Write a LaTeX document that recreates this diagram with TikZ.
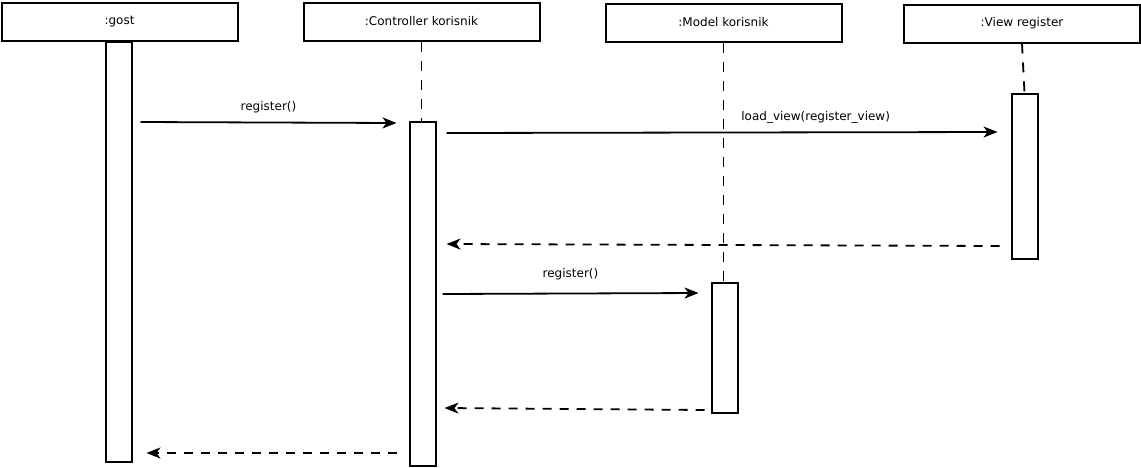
\documentclass[tikz,border=0pt]{standalone}
\usepackage{fontspec}
\setmainfont{DejaVu Sans}
\usetikzlibrary{arrows.meta}
\tikzset{
  objbox/.style={draw, line width=2pt, minimum width=236pt, minimum height=38pt, inner sep=0pt},
  actbar/.style={draw, line width=2pt, minimum width=26pt, inner sep=0pt},
  life/.style={line width=1.8pt, dash pattern=on 10pt off 9pt},
  msg/.style={line width=1.8pt, -{Stealth[length=14pt,width=11pt,inset=4pt]}},
  ret/.style={msg, dash pattern=on 9pt off 8pt},
  lbl/.style={inner sep=0pt}
}
\begin{document}
\begin{tikzpicture}[x=1pt, y=-1pt, font=\fontsize{12}{14}\selectfont]
        \useasboundingbox (0,0) rectangle (1141,467);                       %
        \node[objbox] (gost)  at (119.5,21.5)  {:gost};                     %objects
        \node[objbox] (ctrl)  at (421.5,21.5)  {:Controller korisnik};      %
        \node[objbox] (model) at (723.5,22.5)  {:Model korisnik};           %
        \node[objbox] (view)  at (1022,23.5)   {:View register};            %
        \node[actbar, minimum height=420pt] (gostbar)  at (118.5,252)  {};  %bars
        \node[actbar, minimum height=344pt] (ctrlbar)  at (422.5,294)  {};  %
        \node[actbar, minimum height=130pt] (modelbar) at (724.5,348)  {};  %
        \node[actbar, minimum height=165pt] (viewbar)  at (1024.5,176.5) {};%
        \draw [life] (ctrl.south)  -- (ctrl.south |- ctrlbar.north);        %lifelines
        \draw [life] (model.south) -- (model.south |- modelbar.north);      %
        \draw [life] (view.south)  -- (viewbar.north);                      %
        \draw [msg] ([shift={(8,81)}]gostbar.north east) -- ([shift={(-12,2)}]ctrlbar.north west)
              node[lbl, midway, above=9pt] {register()};                  %1
        \draw [msg] ([shift={(10,12)}]ctrlbar.north east) -- ([shift={(-13,39)}]viewbar.north west)
              node[lbl, pos=0.67, above=8pt] {load\_view(register\_view)}; %2
        \draw [ret] ([shift={(-11,-14)}]viewbar.south west) -- ([shift={(10,123)}]ctrlbar.north east); %3
        \draw [msg] ([shift={(6,173)}]ctrlbar.north east) -- ([shift={(-12,11)}]modelbar.north west)
              node[lbl, midway, above=13pt] {register()};                 %4
        \draw [ret] ([shift={(-6,-4)}]modelbar.south west) -- ([shift={(8,287)}]ctrlbar.north east); %5
        \draw [ret] ([shift={(-12,-14)}]ctrlbar.south west) -- ([shift={(14,-10)}]gostbar.south east); %6
       \end{tikzpicture}
\end{document}
